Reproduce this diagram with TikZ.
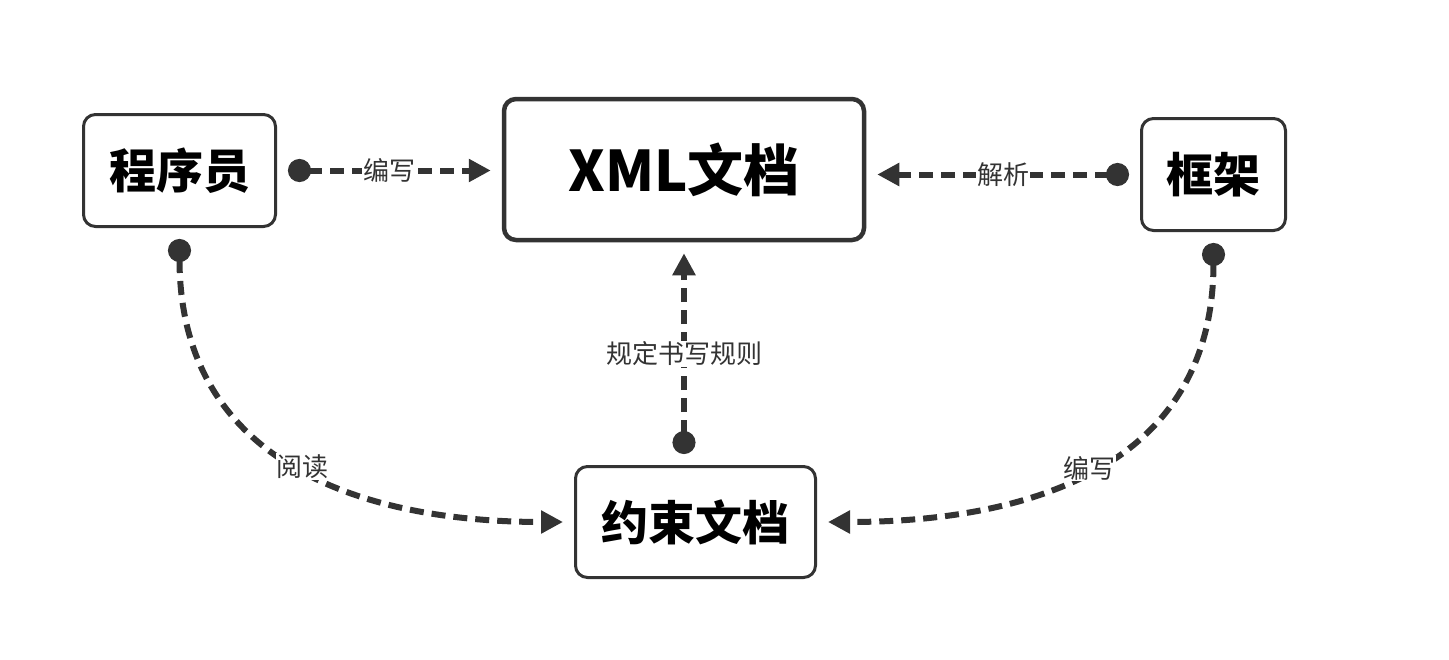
\documentclass[tikz,border=0pt]{standalone}
\usepackage{fontspec}
\setmainfont{Noto Sans CJK SC}
\usepackage{tikz}
\usetikzlibrary{arrows.meta,positioning,calc}
\definecolor{cInk}{HTML}{333333}
\tikzset{
  box/.style  ={draw=cInk,line width=3pt,fill=white,rounded corners=12pt,
                align=center,inner sep=0pt,text=black,
                font=\fontsize{47}{50}\selectfont\bfseries},
  bigbox/.style={box,line width=4.5pt,font=\fontsize{56}{60}\selectfont\bfseries},
  link/.style ={{Circle[length=23pt]}-{Triangle[length=22pt,width=22pt]},
                draw=cInk,line width=6pt,dash pattern=on 14pt off 8pt,
                shorten <=11pt,shorten >=11pt},
  tag/.style  ={font=\fontsize{26}{28}\selectfont,text=cInk,fill=white,
                inner sep=1pt},
}

\begin{document}
\begin{tikzpicture}[x=1pt, y=-1pt]
\useasboundingbox (0,0) rectangle (1449,659);

% ---- boxes ---------------------------------------------------------------
\node[box,minimum width=192pt,minimum height=112pt]    (prog) at (179.5,170.5) {程序员};
\node[bigbox,minimum width=360pt,minimum height=141pt] (xml)  at (684,169.5)   {XML文档};
\node[box,minimum width=144pt,minimum height=112pt]    (kj)   at (1213.5,174.5) {框架};
\node[box,minimum width=240pt,minimum height=111pt]    (yue)  at (695.5,522)   {约束文档};

% ---- connectors ----------------------------------------------------------
\draw[link] (prog.east) -- node[tag] {编写} (xml.west |- prog.east);
\draw[link] (kj.west) -- node[tag] {解析} (xml.east |- kj.west);
\draw[link] (yue.north -| xml.south) -- node[tag] {规定书写规则} (xml.south);
\draw[link] (prog.south) .. controls ($(prog.south)+(0,230)$) and ($(yue.west)+(-220,0)$)
  .. node[tag,pos=0.52] {阅读} (yue.west);
\draw[link] (kj.south) .. controls ($(kj.south)+(0,230)$) and ($(yue.east)+(220,0)$)
  .. node[tag,pos=0.52] {编写} (yue.east);
\end{tikzpicture}
\end{document}
